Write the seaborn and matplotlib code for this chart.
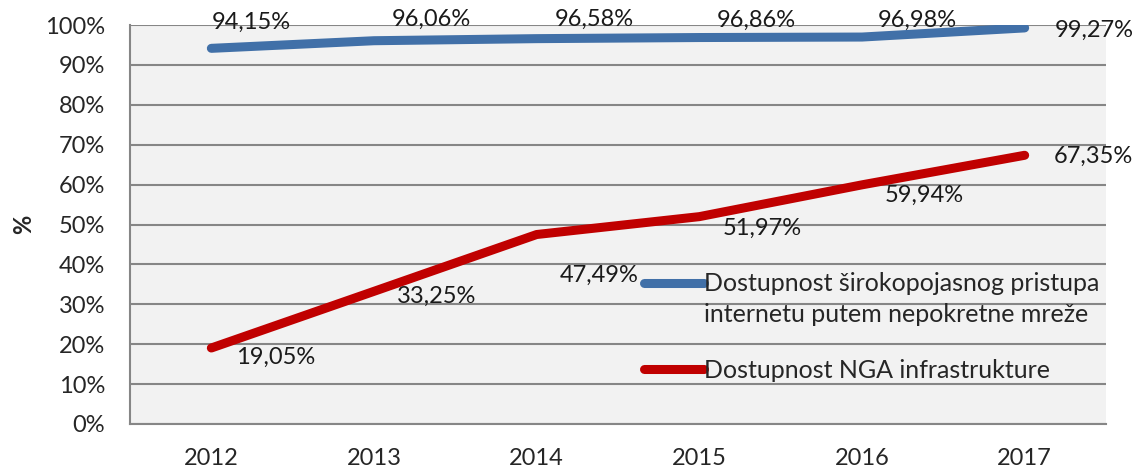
import numpy as np
import pandas as pd
import matplotlib
matplotlib.use("Agg")
import matplotlib.pyplot as plt
from matplotlib.lines import Line2D
import seaborn as sns

# ==================== 数据 ====================
years = ["2012", "2013", "2014", "2015", "2016", "2017"]
fixed_bb = [94.15, 96.06, 96.58, 96.86, 96.98, 99.27]
nga = [19.05, 33.25, 47.49, 51.97, 59.94, 67.35]
series_names = ["Dostupnost širokopojasnog pristupa\ninternetu putem nepokretne mreže",
                "Dostupnost NGA infrastrukture"]

# label offsets (pixels) relative to each point
fixed_offsets = [(40, 26), (57, 21), (58, 19), (57, 17), (55, 17), (70, -2)]
nga_offsets = [(64, -9), (63, -5), (63, -41), (63, -12), (62, -11), (69, -1)]

COLORS = {series_names[0]: "#4170A8", series_names[1]: "#C00000"}
FS = 17

df = pd.DataFrame({
    "year": years * 2,
    "value": fixed_bb + nga,
    "series": [series_names[0]] * 6 + [series_names[1]] * 6,
})
df["x"] = df["year"].map({y: i for i, y in enumerate(years)})

sns.set_style("white")
plt.rcParams['font.family'] = ['Lato', 'DejaVu Sans']

fig = plt.figure(figsize=(11.34, 4.68), dpi=100)
ax = fig.add_axes([130 / 1134, 44 / 468, 976 / 1134, 399 / 468])
ax.set_facecolor("#F2F2F2")

sns.lineplot(data=df, x="x", y="value", hue="series", palette=COLORS,
             linewidth=6.5, ax=ax, solid_capstyle="round", legend=False)

# 数据标签
for vals, offs in [(fixed_bb, fixed_offsets), (nga, nga_offsets)]:
    for i, (v, (dx, dy)) in enumerate(zip(vals, offs)):
        ax.annotate(f"{v:.2f}%".replace(".", ","), (i, v), xytext=(dx, dy),
                    textcoords="offset pixels", ha="center", va="center",
                    fontsize=FS, color="#1a1a1a", annotation_clip=False)

ax.set_xlim(-0.5, 5.5)
ax.set_ylim(0, 100)
ax.set_yticks(np.arange(0, 101, 10))
ax.set_yticklabels([f"{t}%" for t in range(0, 101, 10)], fontsize=FS)
ax.set_xticks(range(6))
ax.set_xticklabels(years, fontsize=FS)
ax.set_xticks(np.arange(-0.5, 6, 1), minor=True)
ax.tick_params(axis="x", which="major", length=0, pad=17)
ax.tick_params(axis="x", which="minor", length=6, width=1.5, color="#868686", direction="out")
ax.tick_params(axis="y", length=6, width=1.5, color="#868686", direction="out", pad=12)
ax.yaxis.grid(True, color="#868686", linewidth=1.5)
ax.set_axisbelow(True)
for side in ["top", "right"]:
    ax.spines[side].set_visible(False)
for side in ["left", "bottom"]:
    ax.spines[side].set_color("#868686")
    ax.spines[side].set_linewidth(1.5)

ax.set_xlabel("")
ax.set_ylabel("%", fontsize=FS, fontweight="bold", labelpad=7)

# 图例: 两行标签拆开, 线段对齐第一行; 红线单独一个图例
lab1, lab2 = series_names[0].split("\n")
leg_kw = dict(frameon=False, fontsize=18, handlelength=2.4, handletextpad=0.0,
              labelspacing=0.3, borderaxespad=0, borderpad=0)
leg1 = ax.legend([Line2D([], [], color=COLORS[series_names[0]], linewidth=6.5, solid_capstyle="round"),
                  Line2D([], [], linewidth=0)],
                 [lab1, lab2], loc="upper left", bbox_to_anchor=(0.527, 0.38), **leg_kw)
ax.add_artist(leg1)
ax.legend([Line2D([], [], color=COLORS[series_names[1]], linewidth=6.5, solid_capstyle="round")],
          [series_names[1]], loc="center left", bbox_to_anchor=(0.527, 0.135), **leg_kw)

fig.savefig("out.png", dpi=100)
